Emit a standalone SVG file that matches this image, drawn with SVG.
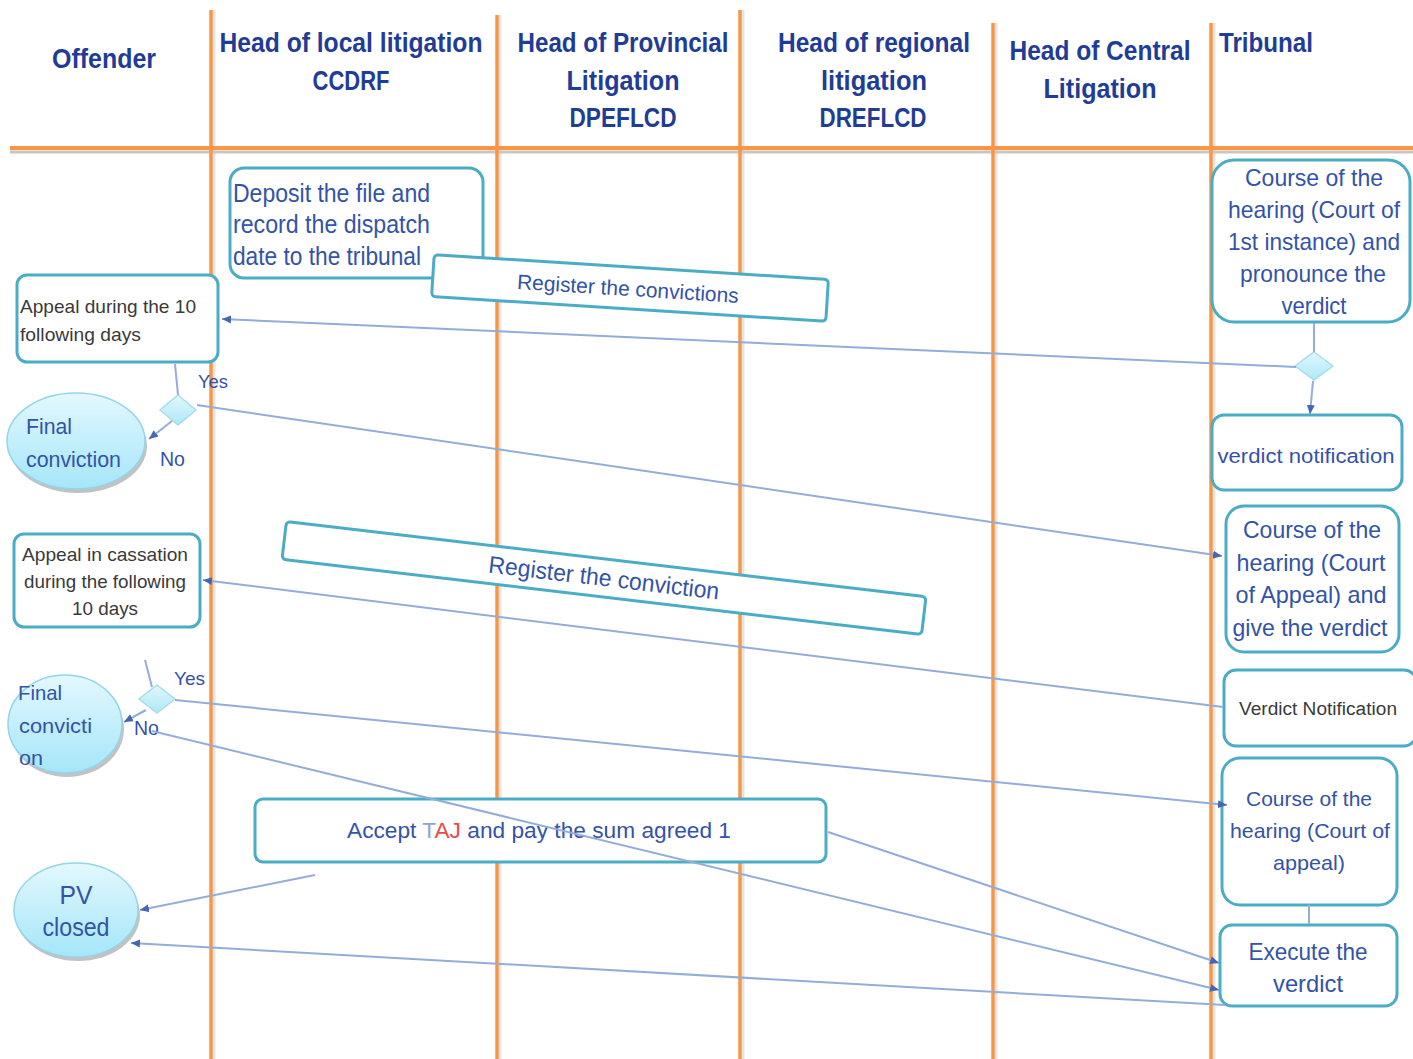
<svg xmlns="http://www.w3.org/2000/svg" width="1413" height="1059" viewBox="0 0 1413 1059">
<style>
.hdr{font-family:"Liberation Sans",Arial,sans-serif;font-weight:bold;font-size:27px;fill:#1F3C96}
.t{font-family:"Liberation Sans",Arial,sans-serif;fill:#3353A8}
.g{font-family:"Liberation Sans",Arial,sans-serif;fill:#3a3a3a}
.box{fill:#fff;stroke:#4BACC6;stroke-width:3}
.lane{stroke:#F79646;stroke-width:3.5}
.lanesh{stroke:#E4E4E4;stroke-width:3}
.con{fill:none;stroke:#94ADD8;stroke-width:2}
.ell{stroke:#93D5E8;stroke-width:1.5;fill:url(#eg)}
.ellsh{fill:#9a9a9a;opacity:.6}
.dia{fill:url(#dg);stroke:#A9DDEB;stroke-width:1.5}
</style>
<defs>
<linearGradient id="eg" x1="0" y1="0" x2="0" y2="1"><stop offset="0" stop-color="#E3F8FE"/><stop offset="1" stop-color="#A5E6F9"/></linearGradient>
<linearGradient id="dg" x1="0" y1="0" x2="0" y2="1"><stop offset="0" stop-color="#E0F7FD"/><stop offset="1" stop-color="#AEE8F8"/></linearGradient>
<marker id="ar" markerUnits="userSpaceOnUse" markerWidth="10" markerHeight="10" refX="9" refY="5" orient="auto"><path d="M0,1 L9,5 L0,9 z" fill="#4566B0"/></marker>
</defs>
<rect width="1413" height="1059" fill="#fff"/>

<g id="lanes">
<line class="lanesh" x1="214" y1="10" x2="214" y2="1059"/>
<line class="lanesh" x1="500" y1="15" x2="500" y2="1059"/>
<line class="lanesh" x1="743" y1="10" x2="743" y2="1059"/>
<line class="lanesh" x1="996" y1="23" x2="996" y2="1059"/>
<line class="lanesh" x1="1214" y1="23" x2="1214" y2="1059"/>
<line x1="10" y1="152" x2="1413" y2="152" stroke="#CFC3BA" stroke-width="3"/>
<line class="lane" x1="211" y1="10" x2="211" y2="1059"/>
<line class="lane" x1="497" y1="15" x2="497" y2="1059"/>
<line class="lane" x1="740" y1="10" x2="740" y2="1059"/>
<line class="lane" x1="993" y1="23" x2="993" y2="1059"/>
<line class="lane" x1="1211" y1="23" x2="1211" y2="1059"/>
<line x1="10" y1="148" x2="1413" y2="148" stroke="#F79646" stroke-width="4"/>
</g>

<g id="headers">
<text class="hdr" x="104" y="68" text-anchor="middle" textLength="104" lengthAdjust="spacingAndGlyphs">Offender</text>
<text class="hdr" x="351" y="52" text-anchor="middle" textLength="263" lengthAdjust="spacingAndGlyphs">Head of local litigation</text>
<text class="hdr" x="351" y="90" text-anchor="middle" textLength="77" lengthAdjust="spacingAndGlyphs">CCDRF</text>
<text class="hdr" x="623" y="52" text-anchor="middle" textLength="211" lengthAdjust="spacingAndGlyphs">Head of Provincial</text>
<text class="hdr" x="623" y="90" text-anchor="middle" textLength="113" lengthAdjust="spacingAndGlyphs">Litigation</text>
<text class="hdr" x="623" y="127" text-anchor="middle" textLength="107" lengthAdjust="spacingAndGlyphs">DPEFLCD</text>
<text class="hdr" x="874" y="52" text-anchor="middle" textLength="192" lengthAdjust="spacingAndGlyphs">Head of regional</text>
<text class="hdr" x="874" y="90" text-anchor="middle" textLength="106" lengthAdjust="spacingAndGlyphs">litigation</text>
<text class="hdr" x="873" y="127" text-anchor="middle" textLength="107" lengthAdjust="spacingAndGlyphs">DREFLCD</text>
<text class="hdr" x="1100" y="60" text-anchor="middle" textLength="181" lengthAdjust="spacingAndGlyphs">Head of Central</text>
<text class="hdr" x="1100" y="98" text-anchor="middle" textLength="113" lengthAdjust="spacingAndGlyphs">Litigation</text>
<text class="hdr" x="1219" y="52" textLength="94" lengthAdjust="spacingAndGlyphs">Tribunal</text>
</g>

<g id="deposit">
<rect class="box" x="230" y="168" width="253" height="110" rx="14"/>
<text class="t" font-size="25" x="233" y="202" textLength="197" lengthAdjust="spacingAndGlyphs">Deposit the file and</text>
<text class="t" font-size="25" x="233" y="233" textLength="197" lengthAdjust="spacingAndGlyphs">record the dispatch</text>
<text class="t" font-size="25" x="233" y="265" textLength="188" lengthAdjust="spacingAndGlyphs">date to the tribunal</text>
</g>

<g id="register1" transform="rotate(3.6 630 288)">
<rect class="box" x="432.5" y="267" width="395" height="42" rx="4"/>
<text class="t" font-size="21" x="628" y="296" text-anchor="middle" textLength="222" lengthAdjust="spacingAndGlyphs">Register the convictions</text>
</g>

<g id="appeal10">
<rect class="box" x="17" y="275" width="201" height="87" rx="10"/>
<text class="g" font-size="19" x="20" y="313" textLength="176" lengthAdjust="spacingAndGlyphs">Appeal during the 10</text>
<text class="g" font-size="19" x="20" y="341" textLength="121" lengthAdjust="spacingAndGlyphs">following days</text>
</g>

<g id="decision1">
<polygon class="dia" points="178,395 196,410 178,425 160,410"/>
<text class="t" font-size="19" x="198" y="388" textLength="30" lengthAdjust="spacingAndGlyphs">Yes</text>
<text class="t" font-size="21" x="160" y="466" textLength="25" lengthAdjust="spacingAndGlyphs">No</text>
</g>

<g id="final1">
<ellipse class="ellsh" cx="78" cy="446" rx="69" ry="47"/>
<ellipse class="ell" cx="76" cy="441" rx="69" ry="48"/>
<text class="t" font-size="22" x="26" y="434" textLength="46" lengthAdjust="spacingAndGlyphs">Final</text>
<text class="t" font-size="22" x="26" y="467" textLength="95" lengthAdjust="spacingAndGlyphs">conviction</text>
</g>

<g id="course1">
<rect class="box" x="1212" y="160" width="198" height="162" rx="22"/>
<text class="t" font-size="24" x="1314" y="186" text-anchor="middle" textLength="138" lengthAdjust="spacingAndGlyphs">Course of the</text>
<text class="t" font-size="24" x="1314" y="218" text-anchor="middle" textLength="172" lengthAdjust="spacingAndGlyphs">hearing (Court of</text>
<text class="t" font-size="24" x="1314" y="250" text-anchor="middle" textLength="172" lengthAdjust="spacingAndGlyphs">1st instance) and</text>
<text class="t" font-size="24" x="1313" y="282" text-anchor="middle" textLength="146" lengthAdjust="spacingAndGlyphs">pronounce the</text>
<text class="t" font-size="24" x="1314" y="314" text-anchor="middle" textLength="65" lengthAdjust="spacingAndGlyphs">verdict</text>
</g>

<g id="decision3">
<polygon class="dia" points="1314,352 1333,366 1314,380 1295,366"/>
</g>

<g id="notif1">
<rect class="box" x="1212" y="415" width="190" height="75" rx="12"/>
<text class="t" font-size="20" x="1306" y="463" text-anchor="middle" textLength="177" lengthAdjust="spacingAndGlyphs">verdict notification</text>
</g>

<g id="course2">
<rect class="box" x="1226" y="506" width="173" height="146" rx="18"/>
<text class="t" font-size="24" x="1312" y="538" text-anchor="middle" textLength="138" lengthAdjust="spacingAndGlyphs">Course of the</text>
<text class="t" font-size="24" x="1311" y="571" text-anchor="middle" textLength="149" lengthAdjust="spacingAndGlyphs">hearing (Court</text>
<text class="t" font-size="24" x="1311" y="603" text-anchor="middle" textLength="151" lengthAdjust="spacingAndGlyphs">of Appeal) and</text>
<text class="t" font-size="24" x="1310" y="636" text-anchor="middle" textLength="155" lengthAdjust="spacingAndGlyphs">give the verdict</text>
</g>

<g id="notif2">
<rect class="box" x="1224" y="670" width="192" height="76" rx="12"/>
<text class="g" font-size="18" x="1318" y="715" text-anchor="middle" textLength="158" lengthAdjust="spacingAndGlyphs">Verdict Notification</text>
</g>

<g id="cassation">
<rect class="box" x="14" y="534" width="186" height="93" rx="10"/>
<text class="g" font-size="19" x="105" y="561" text-anchor="middle" textLength="166" lengthAdjust="spacingAndGlyphs">Appeal in cassation</text>
<text class="g" font-size="19" x="105" y="588" text-anchor="middle" textLength="162" lengthAdjust="spacingAndGlyphs">during the following</text>
<text class="g" font-size="19" x="105" y="615" text-anchor="middle" textLength="66" lengthAdjust="spacingAndGlyphs">10 days</text>
</g>

<g id="register2" transform="rotate(6.7 604 578)">
<rect class="box" x="282" y="559" width="644" height="38" rx="4"/>
<text class="t" font-size="24" x="604" y="586" text-anchor="middle" textLength="232" lengthAdjust="spacingAndGlyphs">Register the conviction</text>
</g>

<g id="decision2">
<polygon class="dia" points="157,685 175,699 157,713 139,699"/>
<text class="t" font-size="19" x="174" y="685" textLength="31" lengthAdjust="spacingAndGlyphs">Yes</text>
<text class="t" font-size="21" x="134" y="735" textLength="25" lengthAdjust="spacingAndGlyphs">No</text>
</g>

<g id="final2">
<ellipse class="ellsh" cx="67" cy="729" rx="57" ry="48"/>
<ellipse class="ell" cx="65" cy="724" rx="57" ry="49"/>
<text class="t" font-size="21" x="18" y="700" textLength="44" lengthAdjust="spacingAndGlyphs">Final</text>
<text class="t" font-size="21" x="19" y="733" textLength="73" lengthAdjust="spacingAndGlyphs">convicti</text>
<text class="t" font-size="21" x="19" y="765" textLength="24" lengthAdjust="spacingAndGlyphs">on</text>
</g>

<g id="course3">
<rect class="box" x="1222" y="758" width="175" height="147" rx="18"/>
<text class="t" font-size="21" x="1309" y="806" text-anchor="middle" textLength="126" lengthAdjust="spacingAndGlyphs">Course of the</text>
<text class="t" font-size="21" x="1310" y="838" text-anchor="middle" textLength="160" lengthAdjust="spacingAndGlyphs">hearing (Court of</text>
<text class="t" font-size="21" x="1309" y="870" text-anchor="middle" textLength="72" lengthAdjust="spacingAndGlyphs">appeal)</text>
</g>

<g id="execute">
<rect class="box" x="1220" y="925" width="177" height="81" rx="12"/>
<text class="t" font-size="24" x="1308" y="960" text-anchor="middle" textLength="119" lengthAdjust="spacingAndGlyphs">Execute the</text>
<text class="t" font-size="24" x="1308" y="992" text-anchor="middle" textLength="70" lengthAdjust="spacingAndGlyphs">verdict</text>
</g>

<g id="accept">
<rect class="box" x="255" y="799" width="571" height="63" rx="8"/>
<text class="t" font-size="22" x="347" y="838" textLength="384" lengthAdjust="spacingAndGlyphs">Accept <tspan fill="#8FA3D6">T</tspan><tspan fill="#F04848">AJ</tspan> and pay the sum agreed 1</text>
</g>

<g id="pvclosed">
<ellipse class="ellsh" cx="78" cy="915" rx="62" ry="46"/>
<ellipse class="ell" cx="76" cy="910" rx="62" ry="47"/>
<text class="t" font-size="25" x="76" y="904" text-anchor="middle" textLength="33" lengthAdjust="spacingAndGlyphs">PV</text>
<text class="t" font-size="25" x="76" y="936" text-anchor="middle" textLength="67" lengthAdjust="spacingAndGlyphs">closed</text>
</g>

<g id="connectors">
<line class="con" x1="1296" y1="367" x2="222" y2="319" marker-end="url(#ar)"/>
<line class="con" x1="1314" y1="323" x2="1314" y2="352"/>
<line class="con" x1="1313" y1="381" x2="1310" y2="414" marker-end="url(#ar)"/>
<line class="con" x1="175" y1="364" x2="178" y2="395"/>
<line class="con" x1="172" y1="421" x2="149" y2="439" marker-end="url(#ar)"/>
<line class="con" x1="197" y1="405" x2="1222" y2="556" marker-end="url(#ar)"/>
<line class="con" x1="1223" y1="707" x2="203" y2="580" marker-end="url(#ar)"/>
<line class="con" x1="145" y1="660" x2="152" y2="687"/>
<line class="con" x1="175" y1="700" x2="1227" y2="805" marker-end="url(#ar)"/>
<line class="con" x1="146" y1="710" x2="124" y2="722" marker-end="url(#ar)"/>
<line class="con" x1="152" y1="731" x2="1219" y2="990" marker-end="url(#ar)"/>
<line class="con" x1="828" y1="832" x2="1219" y2="963" marker-end="url(#ar)"/>
<line class="con" x1="1225" y1="1005" x2="131" y2="943" marker-end="url(#ar)"/>
<line class="con" x1="315" y1="875" x2="140" y2="910" marker-end="url(#ar)"/>
<line class="con" x1="1309" y1="905" x2="1309" y2="924"/>
</g>
</svg>
